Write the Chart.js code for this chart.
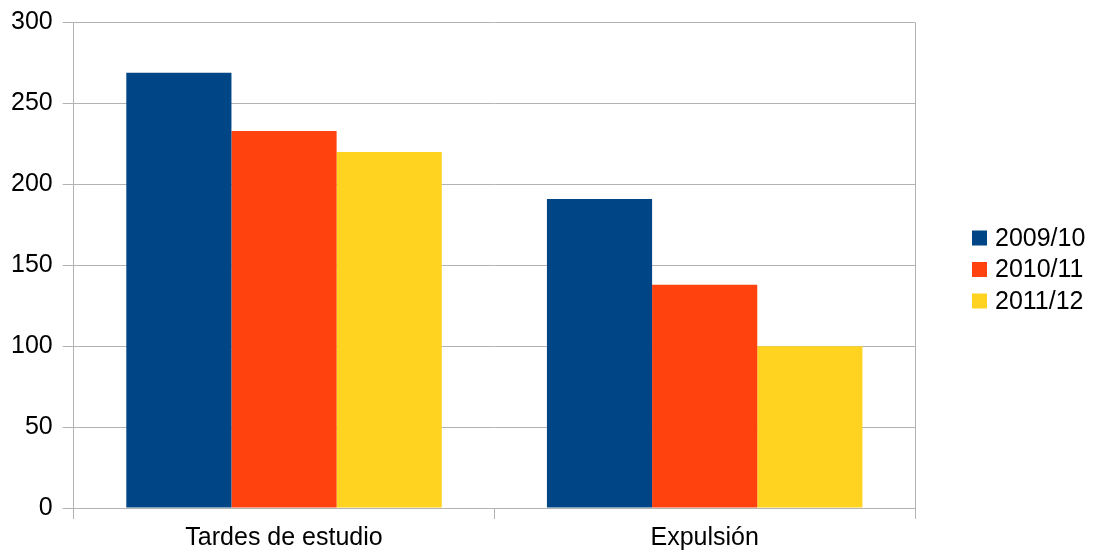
<!DOCTYPE html>
<html>
<head>
<meta charset="utf-8">
<script src="https://cdn.jsdelivr.net/npm/chart.js@4"></script>
<style>
  html, body { margin: 0; padding: 0; background: #fff; }
  #wrap { width: 1093px; height: 552px; }
</style>
</head>
<body>
<div id="wrap"><canvas id="chart"></canvas></div>
<script>
const categories = ['Tardes de estudio', 'Expulsión'];
const seriesLabels = ['2009/10', '2010/11', '2011/12'];
const values2009 = [269, 191];
const values2010 = [233, 138];
const values2011 = [220, 100];
const colors = ['#004586', '#ff420e', '#ffd320'];

const GRID = '#b3b3b3';
const FONT = '"Liberation Sans", Arial, sans-serif';

// legend drawn by hand so it sits where the original one is
const sideLegend = {
    id: 'sideLegend',
    afterDraw(chart) {
        const ctx = chart.ctx;
        ctx.save();
        ctx.font = '25px ' + FONT;
        ctx.textBaseline = 'middle';
        chart.data.datasets.forEach((ds, i) => {
            const y = 238 + i * 31.5;
            ctx.fillStyle = ds.backgroundColor;
            ctx.fillRect(972, y - 7.5, 15, 15);
            ctx.fillStyle = '#000';
            ctx.fillText(ds.label, 995, y + 1);
        });
        ctx.restore();
    }
};

new Chart(document.getElementById('chart'), {
    type: 'bar',
    data: {
        labels: categories,
        datasets: [values2009, values2010, values2011].map((vals, i) => ({
            label: seriesLabels[i],
            data: vals,
            backgroundColor: colors[i],
            categoryPercentage: 0.75,
            barPercentage: 1
        }))
    },
    options: {
        responsive: true,
        maintainAspectRatio: false,
        animation: false,
        layout: {
            padding: { top: 22, left: 1, right: 178, bottom: -5 }
        },
        scales: {
            x: {
                grid: {
                    offset: true,
                    color: ctx => ctx.index === 1 ? 'transparent' : GRID,
                    tickColor: GRID,
                    tickLength: 11,
                    lineWidth: 1
                },
                border: { display: false },
                ticks: {
                    color: '#000',
                    padding: 4,
                    font: { family: FONT, size: 25 }
                }
            },
            y: {
                min: 0,
                max: 300,
                ticks: {
                    stepSize: 50,
                    color: '#000',
                    padding: 10,
                    font: { family: FONT, size: 25, lineHeight: 1 }
                },
                grid: {
                    color: GRID,
                    tickColor: GRID,
                    tickLength: 11
                },
                border: { color: GRID }
            }
        },
        plugins: {
            legend: { display: false },
            tooltip: { enabled: false }
        }
    },
    plugins: [sideLegend]
});
</script>
</body>
</html>
